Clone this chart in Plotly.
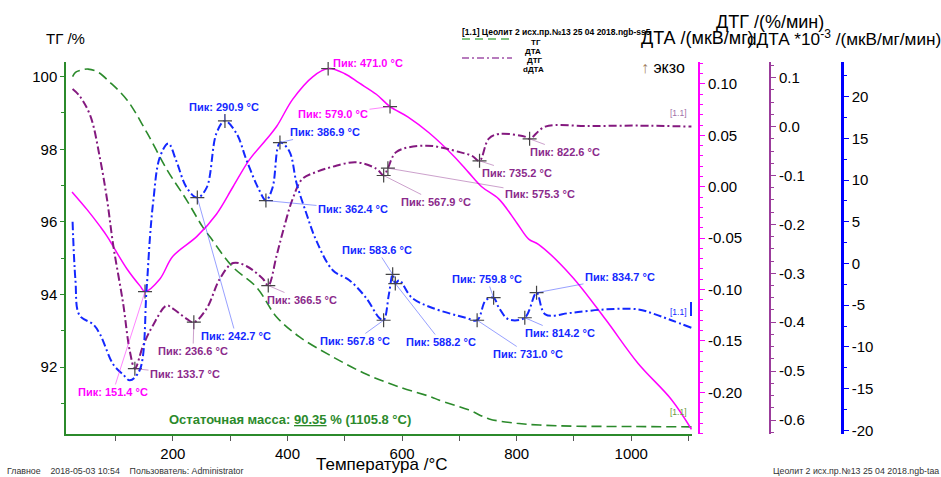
import plotly.graph_objects as go

# ---------------- data ----------------
tg_T = [25, 30, 40, 52, 70, 90, 120, 155, 190, 224, 252, 265, 305, 346, 381, 421, 479, 538, 595, 652, 664, 716, 752, 800, 840, 900, 1000, 1105.8]
tg_v = [100.0, 100.12, 100.18, 100.21, 100.12, 99.85, 99.36, 98.45, 97.43, 96.6, 95.86, 95.58, 94.75, 94.2, 93.38, 92.83, 92.28, 91.8, 91.45, 91.17, 91.09, 90.82, 90.57, 90.45, 90.40, 90.37, 90.36, 90.35]

dta_T = [24, 50, 73, 85, 100, 120, 143, 151.4, 177, 200, 242, 276, 305, 334, 363, 381, 409, 444, 471, 500, 525, 555, 579, 610, 647, 690, 716, 739, 769, 800, 821, 838, 896, 955, 1012, 1070, 1105]
dta_v = [-0.005, -0.022, -0.0386, -0.048, -0.062, -0.080, -0.0967, -0.102, -0.090, -0.0677, -0.0483, -0.0267, 0.000, 0.0266, 0.046, 0.0586, 0.085, 0.107, 0.115, 0.110, 0.101, 0.090, 0.078, 0.068, 0.0525, 0.030, 0.014, 0.000, -0.012, -0.035, -0.051, -0.056, -0.087, -0.129, -0.172, -0.207, -0.236]

dtg_T = [25, 37, 56, 73, 85, 96, 113, 125, 133.7, 148, 165, 189, 200, 224, 236.6, 259, 282, 305, 328, 357, 366.5, 381, 392, 409, 426, 450, 479, 520, 555, 567.9, 575.3, 590, 642, 700, 722, 735.2, 751, 769, 816, 822.6, 850, 925, 1012, 1105]
dtg_v = [0.077, 0.063, 0.022, -0.066, -0.148, -0.243, -0.36, -0.46, -0.495, -0.448, -0.407, -0.366, -0.372, -0.393, -0.40, -0.372, -0.311, -0.279, -0.285, -0.311, -0.325, -0.264, -0.215, -0.148, -0.107, -0.093, -0.082, -0.073, -0.086, -0.10, -0.085, -0.052, -0.039, -0.052, -0.06, -0.07, -0.025, -0.015, -0.021, -0.025, 0.000, 0.001, 0.002, 0.0]

ddta_T = [25, 30, 37, 61, 73, 96, 113, 125, 142, 154, 160, 166, 177, 192, 206, 224, 242.7, 259, 276, 290.9, 311, 329, 351, 362.4, 374, 386.9, 403, 416, 433, 450, 479, 508, 537, 560, 567.8, 577, 583.6, 588.2, 595, 617, 652, 711, 731.0, 746, 759.8, 769, 786, 814.2, 834.7, 850, 896, 955, 1012, 1042, 1070, 1105]
ddta_v = [5.0, -2.0, -6.2, -7.3, -8.5, -12.1, -13.3, -14.0, -12.8, -3.2, 3.1, 7.6, 12.7, 14.4, 12.3, 9.1, 7.9, 9.1, 15.6, 17.1, 15.6, 12.3, 8.75, 7.55, 9.1, 14.5, 13.5, 9.6, 6.0, 2.8, -0.8, -2.0, -4.1, -6.5, -6.8, -3.7, -1.3, -2.4, -2.0, -4.1, -5.3, -6.5, -6.8, -4.4, -4.1, -5.3, -6.7, -6.5, -3.5, -6.1, -5.9, -5.5, -5.5, -6.1, -6.8, -7.7]

# peaks: (temperature, value, label-centre pixel x, label-centre pixel y)
dta_peaks = [(151.4, -0.102, 113, 392), (471.0, 0.115, 368, 63), (579.0, 0.078, 333, 114)]
dtg_peaks = [(133.7, -0.495, 185, 374), (236.6, -0.40, 193, 351), (366.5, -0.325, 302, 300),
             (567.9, -0.10, 436, 202), (575.3, -0.085, 540, 194), (735.2, -0.07, 517, 173),
             (822.6, -0.025, 565, 152)]
ddta_peaks = [(290.9, 17.1, 224, 107), (242.7, 7.9, 236, 336), (386.9, 14.5, 325, 132),
              (362.4, 7.55, 353, 209), (583.6, -1.3, 377, 250), (567.8, -6.8, 355, 341),
              (588.2, -2.4, 441, 342), (759.8, -4.1, 487, 279), (731.0, -6.8, 528, 354),
              (834.7, -3.5, 620, 277), (814.2, -6.5, 560, 333)]

x_ticks = [200, 400, 600, 800, 1000]
tg_ticks = [92, 94, 96, 98, 100]
dta_ticks = [0.10, 0.05, 0.00, -0.05, -0.10, -0.15, -0.20]
dtg_ticks = [0.1, 0.0, -0.1, -0.2, -0.3, -0.4, -0.5, -0.6]
ddta_ticks = [20, 15, 10, 5, 0, -5, -10, -15, -20]

residual_mass = 90.35
residual_T = 1105.8

# ---------------- layout geometry ----------------
W, H = 941, 477
ML, MR, MT, MB = 66, 99, 62, 43
PW, PH = W - ML - MR, H - MT - MB
XR = [13.5, 1106]
TGR = [90.154, 100.405]
DTAR = [-0.2406, 0.1214]
DTGR = [-0.6286, 0.1321]
DDTAR = [-20.44, 24.16]
X_END_PX = 692
xdom_end = (X_END_PX - ML) / PW

GREEN = "#2b8a2b"
MAGENTA = "#ff00ff"
PURPLE = "#84197f"
PURPLE_T = "#8b2a8b"
BLUE = "#1428ff"
FONT = "Liberation Sans, Arial, sans-serif"


def fx(px):
    return (px - ML) / PW


def fy(py):
    return (H - MB - py) / PH


def px_x(t):
    return ML + (t - XR[0]) / (XR[1] - XR[0]) * (X_END_PX - ML)


def px_y(v, r):
    return H - MB - (v - r[0]) / (r[1] - r[0]) * PH


def fmt(v, nd):
    return f"{v:.{nd}f}"


fig = go.Figure()
fig.add_trace(go.Scatter(x=tg_T, y=tg_v, mode="lines", yaxis="y", line=dict(color=GREEN, width=1.6, dash="10px,5px"), line_shape="spline", name="ТГ"))
fig.add_trace(go.Scatter(x=dta_T, y=dta_v, mode="lines", yaxis="y2", line=dict(color=MAGENTA, width=1.5), line_shape="spline", name="ДТА"))
fig.add_trace(go.Scatter(x=dtg_T, y=dtg_v, mode="lines", yaxis="y3", line=dict(color=PURPLE, width=2, dash="8px,3px,2px,3px"), line_shape="spline", name="ДТГ"))
fig.add_trace(go.Scatter(x=ddta_T, y=ddta_v, mode="lines", yaxis="y4", line=dict(color=BLUE, width=2, dash="8px,3px,2px,3px"), line_shape="spline", name="dДТА"))

# peak crosses
for peaks, ax_name in [(dta_peaks, "y2"), (dtg_peaks, "y3"), (ddta_peaks, "y4")]:
    fig.add_trace(go.Scatter(x=[p[0] for p in peaks], y=[p[1] for p in peaks], mode="markers", yaxis=ax_name,
                             marker=dict(symbol="cross-thin", size=10, line=dict(color="#444444", width=1.2)), showlegend=False))

annotations = []
for peaks, yref, rng, col, acol in [(dta_peaks, "y2", DTAR, MAGENTA, "rgba(255,0,255,0.6)"),
                                     (dtg_peaks, "y3", DTGR, PURPLE_T, "rgba(139,42,139,0.55)"),
                                     (ddta_peaks, "y4", DDTAR, BLUE, "rgba(20,40,255,0.55)")]:
    for t, v, cx, cy in peaks:
        annotations.append(dict(
            x=t, y=v, xref="x", yref=yref, text=f"<b>Пик: {t:.1f} °C</b>",
            showarrow=True, arrowhead=0, arrowwidth=0.8, arrowcolor=acol,
            ax=cx - px_x(t), ay=cy - px_y(v, rng), xanchor="center", yanchor="middle",
            font=dict(family=FONT, size=11, color=col)))


def txt(text, px, py, size, color="black", xanchor="center", bold=False):
    annotations.append(dict(x=fx(px), y=fy(py), xref="paper", yref="paper", showarrow=False,
                            text=(f"<b>{text}</b>" if bold else text), xanchor=xanchor, yanchor="middle",
                            font=dict(family=FONT, size=size, color=color)))


txt(f"Остаточная масса: <u>{residual_mass:.2f}</u> % ({residual_T:.1f} °C)", 290, 419, 13, color=GREEN, bold=True)
txt("ТГ /%", 65, 38, 15)
txt("Температура /°C", 381, 464, 17)
txt("ДТГ /(%/мин)", 770, 22, 18)
txt("ДТА /(мкВ/мг)", 639, 38, 18, xanchor="left")
txt("dДТА *10<sup>-3</sup> /(мкВ/мг/мин)", 745, 38, 17.2, xanchor="left")
txt("<span style='color:#a08060'>↑</span> экзо", 639, 67, 16, xanchor="left")
txt("[1.1] Цеолит 2 исх.пр.№13 25 04 2018.ngb-ss5", 460, 32, 8.5, xanchor="left", bold=True)
txt("ТГ", 536, 42, 8, bold=True)
txt("ДТА", 533, 51, 8, bold=True)
txt("ДТГ", 535, 60, 8, bold=True)
txt("dДТА", 533, 69, 8, bold=True)
txt("[1.1]", 678, 113, 8.5, color="#a070a8")
txt("[1.1]", 678, 312, 8.5, color=BLUE)
txt("[1.1]", 678, 412, 8.5, color="#6a9a3a")
txt("Главное    2018-05-03 10:54    Пользователь: Administrator", 5, 471, 8.8, color="#333333", xanchor="left")
txt("Цеолит 2 исх.пр.№13 25 04 2018.ngb-taa", 941, 471, 8.8, color="#333333", xanchor="right")

shapes = [
    dict(type="line", xref="paper", yref="paper", x0=fx(462), x1=fx(512), y0=fy(39), y1=fy(39),
         line=dict(color="#55b055", width=1.5, dash="8px,5px")),
    dict(type="line", xref="paper", yref="paper", x0=fx(462), x1=fx(512), y0=fy(58), y1=fy(58),
         line=dict(color="#a050a8", width=1.5, dash="7px,3px,2px,3px")),
    dict(type="line", xref="paper", yref="paper", x0=fx(691), x1=fx(691), y0=fy(302), y1=fy(316),
         line=dict(color=BLUE, width=2)),
]

tickfont = dict(family=FONT, size=15, color="black")

fig.update_layout(
    width=W, height=H, margin=dict(l=ML, r=MR, t=MT, b=MB),
    plot_bgcolor="white", paper_bgcolor="white", showlegend=False,
    xaxis=dict(domain=[0, xdom_end], range=XR, tickvals=x_ticks, ticktext=[str(v) for v in x_ticks],
               showgrid=False, zeroline=False, showline=True, linecolor=GREEN, linewidth=1.5,
               ticks="outside", ticklen=5, tickcolor="#555555", tickfont=tickfont,
               minor=dict(dtick=100, tick0=0, ticks="outside", ticklen=5, tickcolor="#555555")),
    yaxis=dict(range=TGR, tickvals=tg_ticks, ticktext=[str(v) for v in tg_ticks], showgrid=False,
               zeroline=False, showline=True, linecolor=GREEN, linewidth=1.5, ticks="outside", ticklen=4,
               tickcolor=GREEN, tickfont=tickfont,
               minor=dict(dtick=1, tick0=0, ticks="outside", ticklen=3, tickcolor=GREEN)),
    yaxis2=dict(range=DTAR, overlaying="y", anchor="free", position=fx(699), side="right",
                tickvals=dta_ticks, ticktext=[fmt(v, 2) for v in dta_ticks], showgrid=False, zeroline=False,
                showline=True, linecolor=MAGENTA, linewidth=2, ticks="outside", ticklen=5, tickcolor=MAGENTA,
                tickfont=tickfont, minor=dict(dtick=0.01, tick0=0, ticks="outside", ticklen=3, tickcolor=MAGENTA)),
    yaxis3=dict(range=DTGR, overlaying="y", anchor="free", position=fx(770), side="right",
                tickvals=dtg_ticks, ticktext=[fmt(v, 1) for v in dtg_ticks], showgrid=False, zeroline=False,
                showline=True, linecolor="#9b3c9b", linewidth=2, ticks="outside", ticklen=5, tickcolor="#9b3c9b",
                tickfont=tickfont, minor=dict(dtick=0.025, tick0=0, ticks="outside", ticklen=3, tickcolor="#9b3c9b")),
    yaxis4=dict(range=DDTAR, overlaying="y", anchor="free", position=1.0, side="right",
                tickvals=ddta_ticks, ticktext=[str(v) for v in ddta_ticks], showgrid=False, zeroline=False,
                showline=True, linecolor="#0000ff", linewidth=2.5, ticks="outside", ticklen=5, tickcolor="#0000ff",
                tickfont=tickfont, minor=dict(dtick=2.5, tick0=0, ticks="outside", ticklen=3, tickcolor="#0000ff")),
    annotations=annotations, shapes=shapes,
)

fig.write_html("out.html", config={"displayModeBar": False},
               post_script="document.body.style.margin='0';document.body.style.overflow='hidden';")
